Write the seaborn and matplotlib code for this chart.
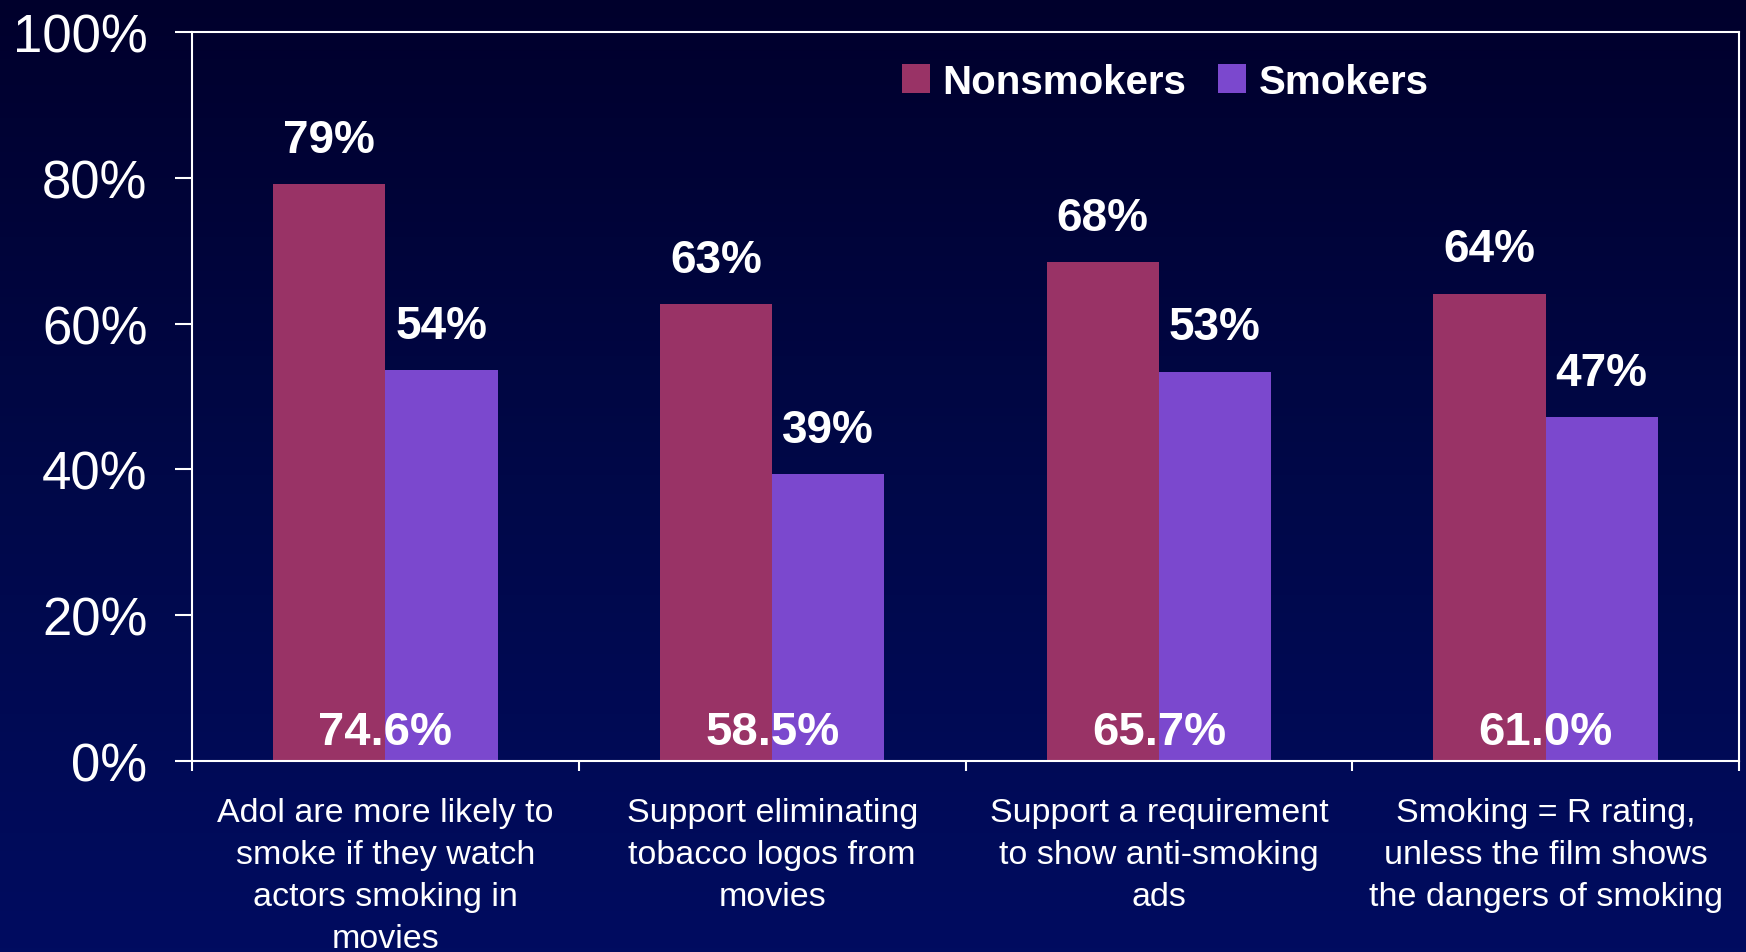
import numpy as np
import pandas as pd
import matplotlib
matplotlib.use("Agg")
import matplotlib.pyplot as plt
import seaborn as sns
from matplotlib.colors import LinearSegmentedColormap

# ================================
# Data
# ================================
categories = [
    "Adol are more likely to\nsmoke if they watch\nactors smoking in\nmovies",
    "Support eliminating\ntobacco logos from\nmovies",
    "Support a requirement\nto show anti-smoking\nads",
    "Smoking = R rating,\nunless the film shows\nthe dangers of smoking",
]
groups = ["Nonsmokers", "Smokers"]
nonsmokers = [79.1, 62.7, 68.4, 64.1]
smokers = [53.6, 39.4, 53.4, 47.2]
overall = [74.6, 58.5, 65.7, 61.0]
yticks = [0, 20, 40, 60, 80, 100]

df = pd.DataFrame({
    "category": categories * 2,
    "group": [groups[0]] * 4 + [groups[1]] * 4,
    "value": nonsmokers + smokers,
})

# ================================
# Style
# ================================
sns.set_theme(style="white")
plt.rcParams["font.family"] = ["Liberation Sans", "DejaVu Sans"]

colors = ["#993366", "#7B48CE"]

fig = plt.figure(figsize=(17.46, 9.53), dpi=100)

# gradient background
bg = fig.add_axes([0, 0, 1, 1])
grad = np.linspace(0, 1, 256).reshape(-1, 1)
cmap = LinearSegmentedColormap.from_list("bg", ["#00002c", "#000848", "#000c60"])
bg.imshow(grad, aspect="auto", cmap=cmap, extent=[0, 1, 0, 1], origin="upper")
bg.axis("off")

ax = fig.add_axes([0.110, 0.2004, 0.886, 0.7650])
ax.set_facecolor("none")

sns.barplot(data=df, x="category", y="value", hue="group", hue_order=groups,
            palette=colors, width=0.58, saturation=1, legend=False, ax=ax)

for cont in ax.containers:
    for p in cont.patches:
        p.set_edgecolor("none")
    ax.bar_label(cont, fmt="{:.0f}%", padding=16, color="white",
                 fontsize=33, fontweight="bold")

for i, v in enumerate(overall):
    ax.text(i, 2.3, f"{v:.1f}%", ha="center", va="baseline", color="white",
            fontsize=34, fontweight="bold")

ax.set_ylim(0, 100)
ax.set_xlim(-0.5, 3.5)
ax.set_yticks(yticks)
ax.set_yticklabels([f"{t}%" for t in yticks])
ax.set_xlabel("")
ax.set_ylabel("")

for s in ax.spines.values():
    s.set_visible(True)
    s.set_color("white")
    s.set_linewidth(1.5)

ax.tick_params(axis="y", colors="white", labelsize=38, length=12, width=1.5,
               pad=20, left=True, direction="out")
ax.set_xticks(np.arange(len(categories)))
ax.set_xticklabels(categories, fontsize=24.5, color="white", linespacing=1.45,
                   va="top")
ax.tick_params(axis="x", which="major", length=0, pad=26)
ax.set_xticks(np.arange(len(categories) + 1) - 0.5, minor=True)
ax.tick_params(axis="x", which="minor", length=7, width=1.5, colors="white",
               bottom=True, direction="out")

leg = ax.legend(ax.containers, groups, loc="center", bbox_to_anchor=(0.629, 0.932),
                ncol=2, frameon=False, handlelength=0.7, handleheight=0.7,
                handletextpad=0.3, columnspacing=0.8,
                prop={"size": 29, "weight": "bold"})
for t in leg.get_texts():
    t.set_color("white")

plt.savefig("out.png", dpi=100, facecolor=fig.get_facecolor())
